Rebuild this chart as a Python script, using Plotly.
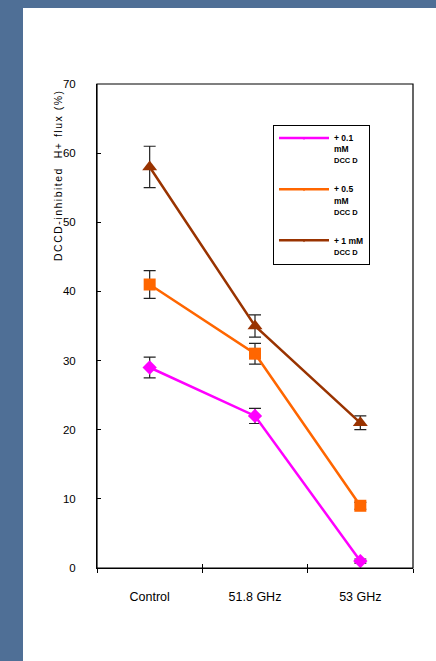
import plotly.graph_objects as go

categories = ["Control", "51.8 GHz", "53 GHz"]
series_names = ["+ 0.1 mM DCCD", "+ 0.5 mM DCCD", "+ 1 mM DCCD"]
legend_labels = [
    "<b>+ 0.1<br>mM<br><span style='font-size:7.5px'>DCC D</span></b>",
    "<b>+ 0.5<br>mM<br><span style='font-size:7.5px'>DCC D</span></b>",
    "<b>+ 1 mM<br><span style='font-size:7.5px'>DCC D</span></b>",
]
vals_01 = [29, 22, 1]
err_01 = [1.5, 1.1, 0.3]
vals_05 = [41, 31, 9]
err_05 = [2.0, 1.5, 0.5]
vals_1 = [58, 35, 21]
err_1 = [3.0, 1.6, 1.0]
y_ticks = [0, 10, 20, 30, 40, 50, 60, 70]

colors = ["#ff00ff", "#ff6600", "#993300"]
symbols = ["diamond", "square", "triangle-up"]
sizes = [11, 12, 13]
values = [vals_01, vals_05, vals_1]
errors = [err_01, err_05, err_1]

W, H = 436, 661
L, R, T, B = 97, 413, 84, 568
BLUE = "#4f6f96"

fig = go.Figure()
for i in range(3):
    fig.add_trace(go.Scatter(
        x=categories, y=values[i], mode="lines+markers",
        line=dict(color=colors[i], width=2.5),
        marker=dict(symbol=symbols[i], size=sizes[i], color=colors[i]),
        error_y=dict(type="data", array=errors[i], visible=True,
                     color="#222222", thickness=1.2, width=6),
        showlegend=False, name=series_names[i],
    ))
for i in range(3):
    fig.add_trace(go.Scatter(
        x=[None], y=[None], mode="lines+markers",
        line=dict(color=colors[i], width=2.5),
        marker=dict(symbol="triangle-down", size=4, color=colors[i]),
        name=legend_labels[i], legendgroup=f"g{i}", showlegend=True,
    ))
# overlay axis for inward x ticks
fig.add_trace(go.Scatter(x=categories, y=[None]*3, xaxis="x2", showlegend=False,
                         hoverinfo="skip"))

px2x = lambda px: (px - L) / (R - L)
px2y = lambda py: (B - py) / (B - T)

fig.update_layout(
    width=W, height=H,
    margin=dict(l=L, r=W - R, t=T, b=H - B, pad=0),
    paper_bgcolor="white",
    plot_bgcolor="white",
    font=dict(family="Liberation Sans, Arial, sans-serif", color="black", size=11),
    xaxis=dict(type="category", categoryorder="array", categoryarray=categories,
               range=[-0.5, 2.5], tickson="boundaries", ticks="outside", ticklen=4,
               tickcolor="black", tickwidth=1, showline=True, linecolor="black",
               linewidth=1, mirror=False, showgrid=False, zeroline=False,
               ticklabelstandoff=17, tickfont=dict(size=12.5)),
    xaxis2=dict(type="category", categoryorder="array", categoryarray=categories,
                range=[-0.5, 2.5], overlaying="x", matches="x", tickson="boundaries",
                ticks="inside", ticklen=4, tickcolor="black", showticklabels=False,
                showgrid=False, zeroline=False, side="bottom", anchor="y"),
    yaxis=dict(range=[0, 70], tickvals=y_ticks, ticks="inside", ticklen=4,
               tickcolor="black", showline=True, linecolor="black", linewidth=1,
               showgrid=False, zeroline=False, ticklabelstandoff=18,
               tickfont=dict(size=11.5)),
    legend=dict(x=px2x(273), y=px2y(125), xanchor="left", yanchor="top",
                bordercolor="black", borderwidth=1, bgcolor="white",
                font=dict(size=8.5, family="Liberation Sans, Arial, sans-serif"),
                itemwidth=50, tracegroupgap=15, valign="top", traceorder="grouped"),
    shapes=[
        dict(type="rect", xref="paper", yref="paper", layer="below",
             x0=px2x(-5), x1=px2x(23), y0=px2y(670), y1=px2y(-5),
             fillcolor=BLUE, line=dict(width=0)),
        dict(type="rect", xref="paper", yref="paper", layer="below",
             x0=px2x(-5), x1=px2x(445), y0=px2y(8), y1=px2y(-5),
             fillcolor=BLUE, line=dict(width=0)),
        dict(type="rect", xref="paper", yref="paper", layer="above",
             x0=0, x1=1, y0=0, y1=1, line=dict(color="black", width=1.2),
             fillcolor="rgba(0,0,0,0)"),
    ],
    annotations=[
        dict(text="<span style='letter-spacing:1.5px'>DCCD-inhibited  H+ flux (%)</span>",
             textangle=-90, xref="paper", yref="paper",
             x=px2x(58), y=px2y(175), showarrow=False, font=dict(size=10.5),
             xanchor="center", yanchor="middle"),
    ],
)

fig.write_html("out.html", config={"displayModeBar": False},
               post_script="document.body.style.margin='0';document.body.style.overflow='hidden';")
